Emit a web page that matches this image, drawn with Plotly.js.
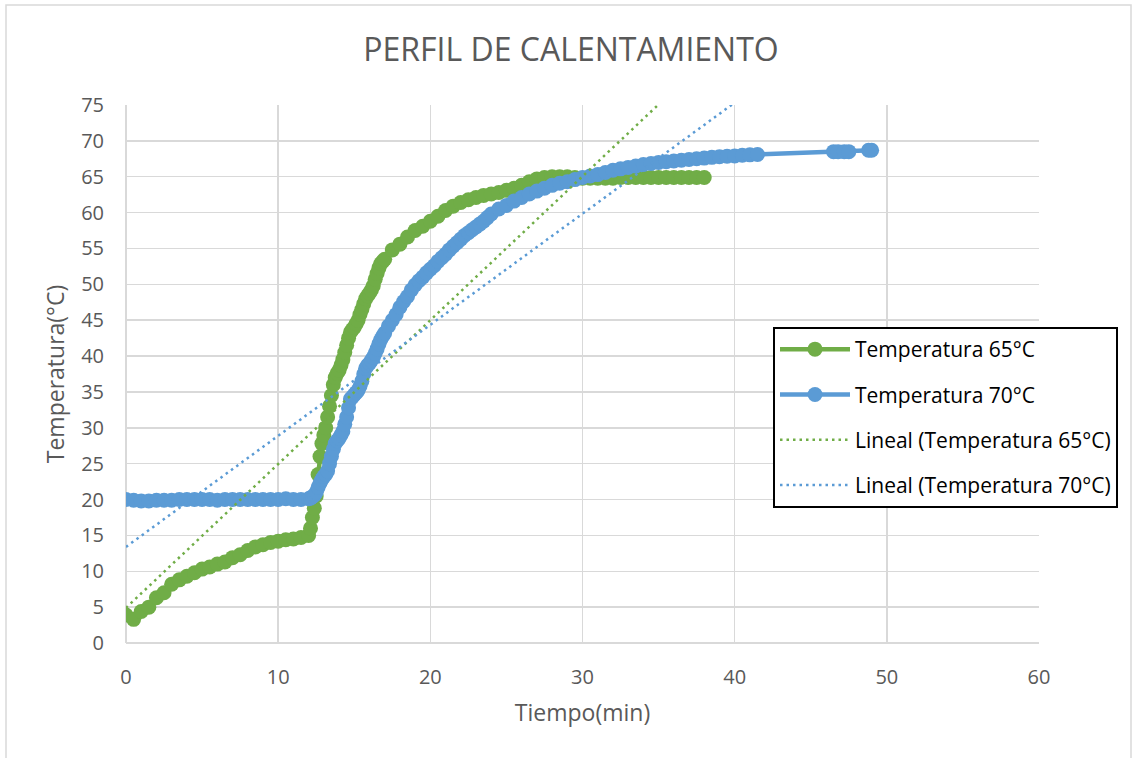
<!DOCTYPE html>
<html>
<head>
<meta charset="utf-8">
<script src="https://cdn.plot.ly/plotly-3.0.1.min.js"></script>
<style>html,body{margin:0;padding:0;background:#fff;}#chart{width:1132px;height:758px;}</style>
</head>
<body>
<div id="chart"></div>
<script>
// Temperatura 65°C
const time65 = [0,0.5,1,1.5,2,2.5,3,3.5,4,4.5,5,5.5,6,6.5,7,7.5,8,8.5,9,9.5,10,10.5,11,11.5,12,
  12.125,12.25,12.375,12.5,12.625,12.75,12.875,13,13.125,13.25,13.375,13.5,13.625,13.75,13.875,14,
  14.125,14.25,14.375,14.5,14.625,14.75,14.875,15,15.125,15.25,15.375,15.5,15.625,15.75,15.875,16,
  16.125,16.25,16.375,16.5,16.625,16.75,16.875,17,
  17.5,18,18.5,19,19.5,20,20.5,21,21.5,22,22.5,23,23.5,24,24.5,25,25.5,26,26.5,27,27.5,28,28.5,29,29.5,
  30,30.5,31,31.5,32,32.5,33,33.5,34,34.5,35,35.5,36,36.5,37,37.5,38];
const temp65 = [3.9,3.3,4.4,5.0,6.3,7.0,8.2,8.8,9.3,9.8,10.3,10.6,11.0,11.3,11.9,12.3,12.9,13.4,13.7,14.0,14.2,14.4,14.5,14.7,15.0,
  16.0,17.5,18.8,20.5,23.5,26.0,27.8,29.0,30.0,31.5,33.0,34.5,36.0,37.0,37.6,38.0,
  38.7,39.5,40.5,41.5,42.5,43.3,43.7,44.0,44.5,45.0,45.8,46.5,47.3,48.0,48.4,48.8,
  49.2,49.8,50.7,51.5,52.3,52.9,53.2,53.5,
  54.8,55.6,56.6,57.5,58.1,58.8,59.5,60.3,60.9,61.4,61.8,62.1,62.4,62.6,62.8,63.1,63.4,63.8,64.3,64.7,64.9,65.0,65.0,65.0,64.9,
  64.8,64.8,64.8,64.8,64.8,64.9,64.9,64.9,64.9,64.9,64.9,64.9,64.9,64.9,64.9,64.9,64.9];

// Temperatura 70°C
const time70 = [0,0.5,1,1.5,2,2.5,3,3.5,4,4.5,5,5.5,6,6.5,7,7.5,8,8.5,9,9.5,10,10.5,11,11.5,12,
  12.125,12.25,12.375,12.5,12.625,12.75,12.875,13,13.125,13.25,13.375,13.5,13.625,13.75,13.875,14,
  14.125,14.25,14.375,14.5,14.625,14.75,14.875,15,15.125,15.25,15.375,15.5,15.625,15.75,15.875,16,
  16.125,16.25,16.375,16.5,16.625,16.75,16.875,17,
  17.25,17.5,17.75,18,18.25,18.5,18.75,19,19.25,19.5,19.75,20,20.25,20.5,20.75,21,21.25,21.5,21.75,22,
  22.25,22.5,22.75,23,23.25,23.5,23.75,24,24.5,25,25.5,26,26.5,27,27.5,28,28.5,29,29.5,
  30,30.5,31,31.5,32,32.5,33,33.5,34,34.5,35,35.5,36,36.5,37,37.5,38,38.5,39,39.5,40,40.5,41,41.5,
  46.5,46.8,47.2,47.5,48.8,49.0];
const temp70 = [20.0,19.9,19.8,19.8,19.9,19.9,19.9,20.0,20.0,20.0,20.0,20.0,19.9,20.0,20.0,20.0,20.0,20.0,20.0,20.0,20.0,20.1,20.0,20.0,20.1,
  20.2,20.4,20.6,21.0,21.7,22.3,22.8,23.2,23.5,24.0,25.0,26.0,27.0,27.8,28.2,28.5,
  29.0,29.5,30.5,31.5,32.8,34.0,34.3,34.6,34.9,35.2,35.8,36.5,37.5,38.3,38.7,39.0,
  39.4,39.8,40.4,41.0,41.7,42.3,42.8,43.2,
  44.2,45.0,45.8,46.8,47.6,48.3,49.2,49.9,50.5,51.0,51.6,52.1,52.6,53.2,53.7,54.2,54.8,55.3,55.8,56.3,
  56.8,57.2,57.6,58.0,58.4,58.8,59.3,59.8,60.5,61.0,61.6,62.1,62.6,63.0,63.4,63.8,64.1,64.3,64.6,
  64.9,65.1,65.3,65.6,65.9,66.1,66.3,66.5,66.7,66.85,67.0,67.1,67.2,67.3,67.4,67.5,67.6,67.7,67.8,67.85,67.9,68.0,68.05,68.1,
  68.5,68.5,68.5,68.5,68.7,68.7];

// Linear trendlines (intercept, slope): [65°C, 70°C]
const trendIntercept = [4.9, 13.4];
const trendSlope = [2.005, 1.548];

const seriesNames = ['Temperatura 65°C', 'Temperatura 70°C'];
const trendNames = ['Lineal (Temperatura 65°C)', 'Lineal (Temperatura 70°C)'];

const GREEN = '#70AD47', BLUE = '#5B9BD5';
const FONT = '"Open Sans", "Noto Sans", sans-serif';

function trendTrace(xs, i, color, group) {
  const x0 = Math.min(...xs), x1 = Math.max(...xs);
  return {
    x: [x0, x1], y: [trendIntercept[i] + trendSlope[i]*x0, trendIntercept[i] + trendSlope[i]*x1],
    type: 'scatter', mode: 'lines', name: trendNames[i], legendgroup: group,
    line: {color: color, width: 2.5, dash: '2.5px,4px'}, hoverinfo: 'skip'
  };
}

const data = [
  {x: time65, y: temp65, type: 'scatter', mode: 'lines+markers', name: seriesNames[0], legendgroup: 'a',
   line: {color: GREEN, width: 4.5}, marker: {color: GREEN, size: 15}},
  {x: time70, y: temp70, type: 'scatter', mode: 'lines+markers', name: seriesNames[1], legendgroup: 'b',
   line: {color: BLUE, width: 4.5}, marker: {color: BLUE, size: 15}},
  trendTrace(time65, 0, GREEN, 'c'),
  trendTrace(time70, 1, BLUE, 'd')
];

const gridC = '#d9d9d9';
const layout = {
  width: 1132, height: 758,
  margin: {l: 126, r: 93, t: 105, b: 115, pad: 0},
  paper_bgcolor: '#fff', plot_bgcolor: '#fff',
  font: {family: FONT, color: '#595959'},
  title: {text: 'PERFIL DE CALENTAMIENTO', font: {family: FONT, size: 32, color: '#595959'},
          x: 0.5044, xanchor: 'center', y: 1 - 50/758, yanchor: 'middle'},
  xaxis: {range: [0, 60], dtick: 10, tick0: 0, showgrid: true, gridcolor: gridC, gridwidth: 1.5,
          zeroline: true, zerolinecolor: gridC, zerolinewidth: 1.5, showline: false, ticks: '',
          ticklabelstandoff: 20, tickfont: {size: 20, color: '#595959'},
          title: {text: 'Tiempo(min)', font: {size: 23, color: '#595959'}, standoff: 15}, automargin: false},
  yaxis: {range: [0, 75], dtick: 5, tick0: 0, showgrid: true, gridcolor: gridC, gridwidth: 1.5,
          zeroline: true, zerolinecolor: gridC, zerolinewidth: 1.5, showline: false, ticks: '',
          ticklabelstandoff: 21, tickfont: {size: 20, color: '#595959'},
          title: {text: 'Temperatura(°C)', font: {size: 23, color: '#595959'}, standoff: 10}, automargin: false},
  showlegend: true,
  legend: {x: (773-126)/913, y: (643-327)/538, xanchor: 'left', yanchor: 'top',
           bgcolor: '#fff', bordercolor: '#000', borderwidth: 2,
           font: {size: 21, color: '#000'}, traceorder: 'grouped', tracegroupgap: 15, itemwidth: 70},
  shapes: [{type: 'rect', xref: 'paper', yref: 'paper',
            x0: (6-126)/913, x1: (1131-126)/913, y0: (643-762)/538, y1: (643-5)/538,
            line: {color: gridC, width: 1.5}, fillcolor: 'rgba(0,0,0,0)', layer: 'below'}]
};

Plotly.newPlot('chart', data, layout, {displayModeBar: false, staticPlot: true});
</script>
</body>
</html>
